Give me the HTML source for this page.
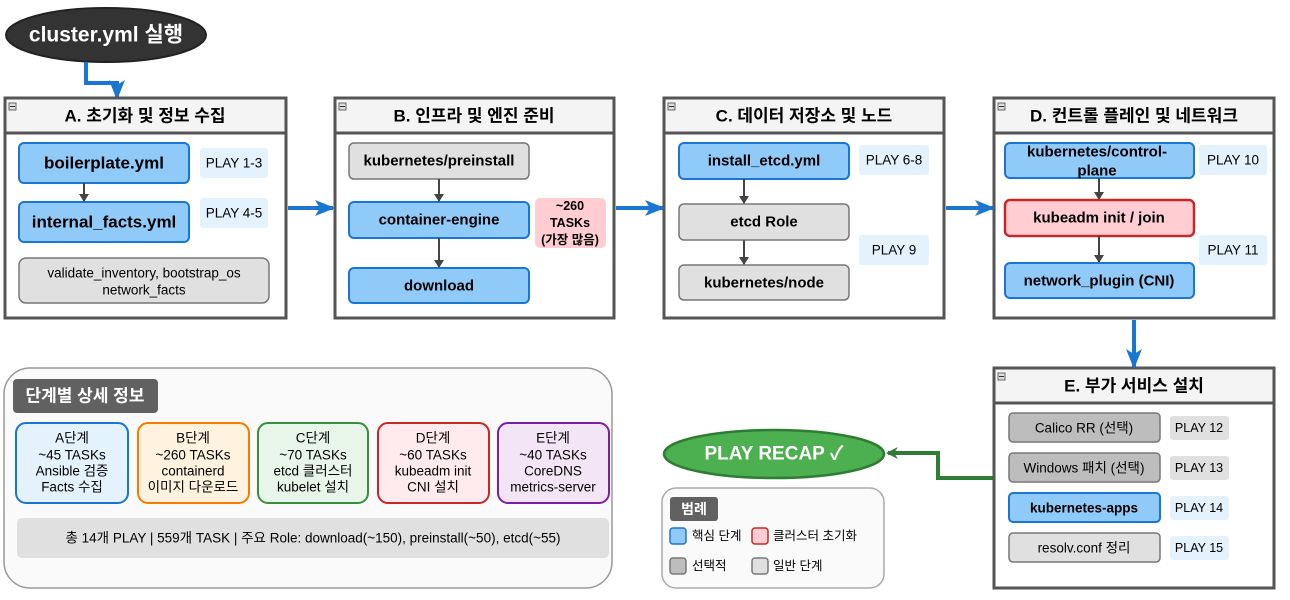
<!DOCTYPE html>
<html><head><meta charset="utf-8"><style>
html,body{margin:0;padding:0;background:#fff;width:1290px;height:600px;overflow:hidden}
svg{display:block}
text{font-family:"Liberation Sans","Noto Sans CJK KR",sans-serif;fill:#000;text-anchor:middle;dominant-baseline:central}
.b{font-weight:bold}
</style></head><body>
<svg width="1290" height="600" viewBox="0 0 1290 600" xmlns="http://www.w3.org/2000/svg">
<defs>
<marker id="ag" markerWidth="12" markerHeight="12" refX="10" refY="6" orient="auto" markerUnits="userSpaceOnUse"><path d="M0,0 L12,6 L0,12 L4,6z" fill="#2e7d32"/></marker>
<marker id="ad" markerWidth="8" markerHeight="10" refX="7" refY="5" orient="auto" markerUnits="userSpaceOnUse"><path d="M0,0 L8,5 L0,10z" fill="#444"/></marker>
<marker id="abig" markerWidth="20" markerHeight="16" refX="18" refY="8" orient="auto" markerUnits="userSpaceOnUse"><path d="M0,0 L20,8 L0,16 L5,8z" fill="#1976d2"/></marker>
</defs>

<ellipse cx="106" cy="35" rx="100" ry="27" fill="#333" stroke="#222" stroke-width="2"/>
<text x="106" y="35" class="b" style="fill:#fff;font-size:21px">cluster.yml 실행</text>
<path d="M86,62 L86,83 L117,83 L117,98" fill="none" stroke="#1976d2" stroke-width="4" marker-end="url(#abig)"/>

<g stroke="#555" stroke-width="3">
<rect x="5" y="98" width="281" height="220" fill="#fff"/>
<rect x="335" y="98" width="279" height="220" fill="#fff"/>
<rect x="664" y="98" width="280" height="220" fill="#fff"/>
<rect x="994" y="98" width="280" height="220" fill="#fff"/>
<rect x="994" y="368" width="280" height="220" fill="#fff"/>
</g>
<g fill="#f4f4f4" stroke="#555" stroke-width="3">
<rect x="5" y="98" width="281" height="35"/>
<rect x="335" y="98" width="279" height="35"/>
<rect x="664" y="98" width="280" height="35"/>
<rect x="994" y="98" width="280" height="35"/>
<rect x="994" y="368" width="280" height="35"/>
</g>
<g fill="#ddd" stroke="#666" stroke-width="1">
<rect x="9" y="103" width="7" height="7"/><rect x="339" y="103" width="7" height="7"/><rect x="668" y="103" width="7" height="7"/><rect x="998" y="103" width="7" height="7"/><rect x="998" y="373" width="7" height="7"/>
</g>
<g stroke="#333" stroke-width="1"><path d="M10,106.5h5M340,106.5h5M669,106.5h5M999,106.5h5M999,376.5h5"/></g>
<g style="font-size:17px">
<text x="145" y="116" class="b">A. 초기화 및 정보 수집</text>
<text x="474" y="116" class="b">B. 인프라 및 엔진 준비</text>
<text x="804" y="116" class="b">C. 데이터 저장소 및 노드</text>
<text x="1134" y="116" class="b">D. 컨트롤 플레인 및 네트워크</text>
<text x="1134" y="386" class="b">E. 부가 서비스 설치</text>
</g>

<g stroke="#1976d2" stroke-width="4" fill="none">
<path d="M288,208 L333,208" marker-end="url(#abig)"/>
<path d="M616,208 L663,208" marker-end="url(#abig)"/>
<path d="M946,208 L993,208" marker-end="url(#abig)"/>
<path d="M1134,320 L1134,367" marker-end="url(#abig)"/>
</g>

<rect x="19" y="143" width="170" height="40" rx="5" fill="#90caf9" stroke="#1976d2" stroke-width="2"/>
<text x="104" y="163" class="b" style="font-size:17px">boilerplate.yml</text>
<rect x="19" y="202" width="170" height="40" rx="5" fill="#90caf9" stroke="#1976d2" stroke-width="2"/>
<text x="104" y="222" class="b" style="font-size:17px">internal_facts.yml</text>
<path d="M84,183 L84,201" stroke="#444" stroke-width="2" marker-end="url(#ad)"/>
<rect x="200" y="148" width="68" height="30" rx="3" fill="#e3f2fd"/>
<text x="234" y="163" style="font-size:13.5px">PLAY 1-3</text>
<rect x="200" y="198" width="68" height="30" rx="3" fill="#e3f2fd"/>
<text x="234" y="213" style="font-size:13.5px">PLAY 4-5</text>
<rect x="19" y="258" width="250" height="45" rx="7" fill="#e0e0e0" stroke="#777" stroke-width="1.5"/>
<text x="144" y="273" style="font-size:13.5px">validate_inventory, bootstrap_os</text>
<text x="144" y="290" style="font-size:13.5px">network_facts</text>

<rect x="349" y="143" width="180" height="36" rx="5" fill="#e0e0e0" stroke="#777" stroke-width="1.5"/>
<text x="439" y="161" class="b" style="font-size:15px">kubernetes/preinstall</text>
<rect x="349" y="202" width="180" height="36" rx="5" fill="#90caf9" stroke="#1976d2" stroke-width="2"/>
<text x="439" y="220" class="b" style="font-size:15px">container-engine</text>
<rect x="349" y="268" width="180" height="35" rx="5" fill="#90caf9" stroke="#1976d2" stroke-width="2"/>
<text x="439" y="286" class="b" style="font-size:15px">download</text>
<path d="M439,179 L439,201" stroke="#444" stroke-width="2" marker-end="url(#ad)"/>
<path d="M439,238 L439,267" stroke="#444" stroke-width="2" marker-end="url(#ad)"/>
<rect x="535" y="198" width="71" height="50" rx="5" fill="#ffcdd2"/>
<text x="570" y="206" class="b" style="font-size:12.5px">~260</text>
<text x="570" y="223" class="b" style="font-size:12.5px">TASKs</text>
<text x="570" y="240" class="b" style="font-size:12.5px">(가장 많음)</text>

<rect x="679" y="143" width="170" height="36" rx="5" fill="#90caf9" stroke="#1976d2" stroke-width="2"/>
<text x="764" y="161" class="b" style="font-size:15px">install_etcd.yml</text>
<rect x="679" y="204" width="170" height="36" rx="5" fill="#e0e0e0" stroke="#777" stroke-width="1.5"/>
<text x="764" y="222" class="b" style="font-size:15px">etcd Role</text>
<rect x="679" y="265" width="170" height="35" rx="5" fill="#e0e0e0" stroke="#777" stroke-width="1.5"/>
<text x="764" y="283" class="b" style="font-size:15px">kubernetes/node</text>
<path d="M744,179 L744,203" stroke="#444" stroke-width="2" marker-end="url(#ad)"/>
<path d="M744,240 L744,264" stroke="#444" stroke-width="2" marker-end="url(#ad)"/>
<rect x="859" y="145" width="70" height="30" rx="3" fill="#e3f2fd"/>
<text x="894" y="160" style="font-size:13.5px">PLAY 6-8</text>
<rect x="859" y="235" width="70" height="30" rx="3" fill="#e3f2fd"/>
<text x="894" y="250" style="font-size:13.5px">PLAY 9</text>

<rect x="1005" y="143" width="189" height="35" rx="5" fill="#90caf9" stroke="#1976d2" stroke-width="2"/>
<text x="1097" y="152" class="b" style="font-size:15px">kubernetes/control-</text>
<text x="1097" y="171" class="b" style="font-size:15px">plane</text>
<rect x="1005" y="200" width="189" height="36" rx="5" fill="#ffcdd2" stroke="#c62828" stroke-width="2.5"/>
<text x="1099" y="218" class="b" style="font-size:15px">kubeadm init / join</text>
<rect x="1005" y="263" width="189" height="35" rx="5" fill="#90caf9" stroke="#1976d2" stroke-width="2"/>
<text x="1099" y="281" class="b" style="font-size:15px">network_plugin (CNI)</text>
<path d="M1099,178 L1099,199" stroke="#444" stroke-width="2" marker-end="url(#ad)"/>
<path d="M1099,236 L1099,262" stroke="#444" stroke-width="2" marker-end="url(#ad)"/>
<rect x="1199" y="145" width="68" height="30" rx="3" fill="#e3f2fd"/>
<text x="1233" y="160" style="font-size:13.5px">PLAY 10</text>
<rect x="1199" y="235" width="68" height="30" rx="3" fill="#e3f2fd"/>
<text x="1233" y="250" style="font-size:13.5px">PLAY 11</text>

<rect x="1009" y="413" width="151" height="29" rx="4" fill="#bdbdbd" stroke="#777" stroke-width="1.5"/>
<text x="1084" y="428" style="font-size:13.5px">Calico RR (선택)</text>
<rect x="1009" y="453" width="151" height="29" rx="4" fill="#bdbdbd" stroke="#777" stroke-width="1.5"/>
<text x="1084" y="468" style="font-size:13.5px">Windows 패치 (선택)</text>
<rect x="1009" y="493" width="151" height="29" rx="4" fill="#90caf9" stroke="#1976d2" stroke-width="2"/>
<text x="1084" y="508" class="b" style="font-size:13.5px">kubernetes-apps</text>
<rect x="1009" y="533" width="151" height="29" rx="4" fill="#e0e0e0" stroke="#777" stroke-width="1.5"/>
<text x="1084" y="548" style="font-size:13.5px">resolv.conf 정리</text>
<rect x="1170" y="416" width="59" height="24" rx="3" fill="#e0e0e0"/><text x="1199" y="428" style="font-size:12.5px">PLAY 12</text>
<rect x="1170" y="456" width="59" height="24" rx="3" fill="#e0e0e0"/><text x="1199" y="468" style="font-size:12.5px">PLAY 13</text>
<rect x="1170" y="496" width="59" height="24" rx="3" fill="#e3f2fd"/><text x="1199" y="508" style="font-size:12.5px">PLAY 14</text>
<rect x="1170" y="536" width="59" height="24" rx="3" fill="#e3f2fd"/><text x="1199" y="548" style="font-size:12.5px">PLAY 15</text>

<path d="M993,478 L938,478 L938,453 L888,453" fill="none" stroke="#2e7d32" stroke-width="4" marker-end="url(#ag)"/>
<ellipse cx="774" cy="454" rx="110" ry="24" fill="#4caf50" stroke="#2e7d32" stroke-width="2.5"/>
<text x="774" y="454" class="b" style="fill:#fff;font-size:19px">PLAY RECAP ✓</text>

<rect x="662" y="488" width="222" height="100" rx="14" fill="#fafafa" stroke="#aaa" stroke-width="1.5"/>
<rect x="670" y="497" width="48" height="24" rx="3" fill="#616161"/>
<text x="694" y="509" class="b" style="fill:#fff;font-size:14px">범례</text>
<rect x="670" y="528" width="16" height="16" rx="3" fill="#90caf9" stroke="#1976d2" stroke-width="1.5"/>
<text x="692" y="536" style="font-size:12.5px;text-anchor:start">핵심 단계</text>
<rect x="752" y="528" width="16" height="16" rx="3" fill="#ffcdd2" stroke="#c62828" stroke-width="1.5"/>
<text x="773" y="536" style="font-size:12.5px;text-anchor:start">클러스터 초기화</text>
<rect x="670" y="558" width="16" height="16" rx="3" fill="#bdbdbd" stroke="#777" stroke-width="1.5"/>
<text x="692" y="566" style="font-size:12.5px;text-anchor:start">선택적</text>
<rect x="752" y="558" width="16" height="16" rx="3" fill="#e0e0e0" stroke="#777" stroke-width="1.5"/>
<text x="773" y="566" style="font-size:12.5px;text-anchor:start">일반 단계</text>

<rect x="4" y="368" width="608" height="220" rx="26" fill="#fafafa" stroke="#999" stroke-width="1.5"/>
<rect x="13" y="379" width="145" height="34" rx="4" fill="#616161"/>
<text x="85" y="396" class="b" style="fill:#fff;font-size:17px">단계별 상세 정보</text>
<g style="font-size:13.5px">
<rect x="16" y="423" width="112" height="80" rx="10" fill="#e3f2fd" stroke="#1976d2" stroke-width="2"/>
<text x="72" y="438">A단계</text><text x="72" y="455">~45 TASKs</text><text x="72" y="471">Ansible 검증</text><text x="72" y="487">Facts 수집</text>
<rect x="138" y="423" width="111" height="80" rx="10" fill="#fff3e0" stroke="#f57c00" stroke-width="2"/>
<text x="193" y="438">B단계</text><text x="193" y="455">~260 TASKs</text><text x="193" y="471">containerd</text><text x="193" y="487">이미지 다운로드</text>
<rect x="258" y="423" width="110" height="80" rx="10" fill="#e8f5e9" stroke="#388e3c" stroke-width="2"/>
<text x="313" y="438">C단계</text><text x="313" y="455">~70 TASKs</text><text x="313" y="471">etcd 클러스터</text><text x="313" y="487">kubelet 설치</text>
<rect x="378" y="423" width="111" height="80" rx="10" fill="#ffebee" stroke="#c62828" stroke-width="2"/>
<text x="433" y="438">D단계</text><text x="433" y="455">~60 TASKs</text><text x="433" y="471">kubeadm init</text><text x="433" y="487">CNI 설치</text>
<rect x="498" y="423" width="111" height="80" rx="10" fill="#f3e5f5" stroke="#7b1fa2" stroke-width="2"/>
<text x="553" y="438">E단계</text><text x="553" y="455">~40 TASKs</text><text x="553" y="471">CoreDNS</text><text x="553" y="487">metrics-server</text>
</g>
<rect x="17" y="518" width="592" height="40" rx="5" fill="#e0e0e0"/>
<text x="313" y="538" style="font-size:13.5px">총 14개 PLAY | 559개 TASK | 주요 Role: download(~150), preinstall(~50), etcd(~55)</text>
</svg>
</body></html>
